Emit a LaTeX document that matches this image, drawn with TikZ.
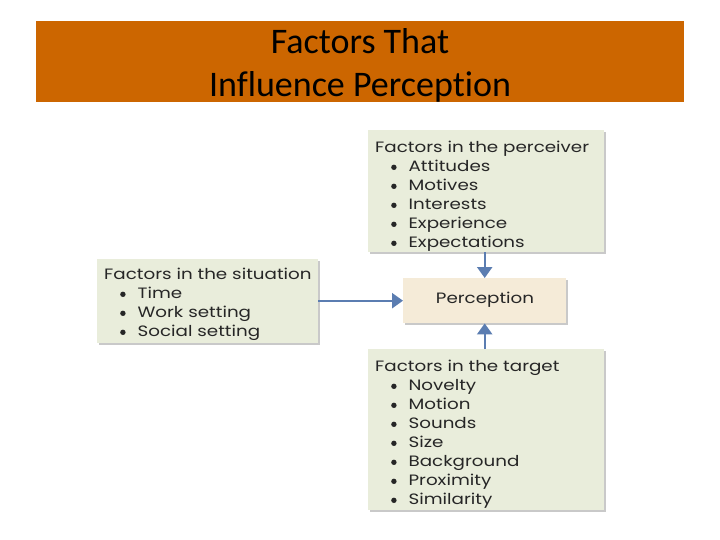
\documentclass[tikz,border=0pt]{standalone}
\usepackage{fontspec}
\setmainfont{Carlito}[Ligatures=NoCommon]
\newfontfamily\boxfont{Poppins}[FakeStretch=1.22]
\usetikzlibrary{shadows,arrows.meta}
\definecolor{titlebar}{HTML}{CC6600}
\definecolor{boxgreen}{HTML}{E9EDDB}
\definecolor{boxbeige}{HTML}{F5EBD8}
\definecolor{arrowblue}{HTML}{5B7DB1}
\tikzset{
  factorbox/.style={draw=none, fill=boxgreen, anchor=north west, inner sep=0pt,
    drop shadow={shadow xshift=2pt, shadow yshift=-2pt, fill=black!35, opacity=0.6}},
  boxtext/.style={anchor=north west, align=left, inner sep=0pt,
    font=\boxfont\fontsize{15}{19}\selectfont, text=black!85},
  flow/.style={draw=arrowblue, line width=2.4pt, -{Triangle[width=15pt,length=11pt]}}
}
\newcommand{\bl}{\hspace*{16pt}\raisebox{1.6pt}{\tikz\fill[black!85] (0,0) circle (2.7pt);}\hspace{12pt}}
\begin{document}
\begin{tikzpicture}[x=1pt,y=-1pt]
\useasboundingbox (0,0) rectangle (720,540);
\fill[white] (0,0) rectangle (720,540);
\node[fill=titlebar, minimum width=648pt, minimum height=81pt, anchor=north west, inner sep=0pt] (title) at (36,21) {};
\node[font=\fontsize{36}{43}\selectfont, align=center, text=black] (titletext) at (360,65) {Factors That\\Influence Perception};

\node[factorbox, minimum width=236pt, minimum height=122pt] (perceiver) at (368,130) {};
\node[factorbox, minimum width=221pt, minimum height=84pt] (situation) at (97,259) {};
\node[factorbox, fill=boxbeige, minimum width=163pt, minimum height=45pt, drop shadow={opacity=0}] (perception) at (403,278) {};
\node[factorbox, minimum width=236pt, minimum height=161pt] (target) at (368,349) {};

\node[boxtext] (ptext) at (375,141) {Factors in the perceiver\\\bl Attitudes\\\bl Motives\\\bl Interests\\\bl Experience\\\bl Expectations};
\node[boxtext] (stext) at (104,268) {Factors in the situation\\\bl Time\\\bl Work setting\\\bl Social setting};
\node[boxtext, anchor=center] (pertext) at (485,300) {Perception};
\node[boxtext] (ttext) at (375,360) {Factors in the target\\\bl Novelty\\\bl Motion\\\bl Sounds\\\bl Size\\\bl Background\\\bl Proximity\\\bl Similarity};

\draw[flow] (perceiver.south -| perception.north) -- (perception.north);
\draw[flow] (target.north -| perception.south) -- (perception.south);
\draw[flow] (situation.east |- perception.west) -- (perception.west);
\end{tikzpicture}
\end{document}
